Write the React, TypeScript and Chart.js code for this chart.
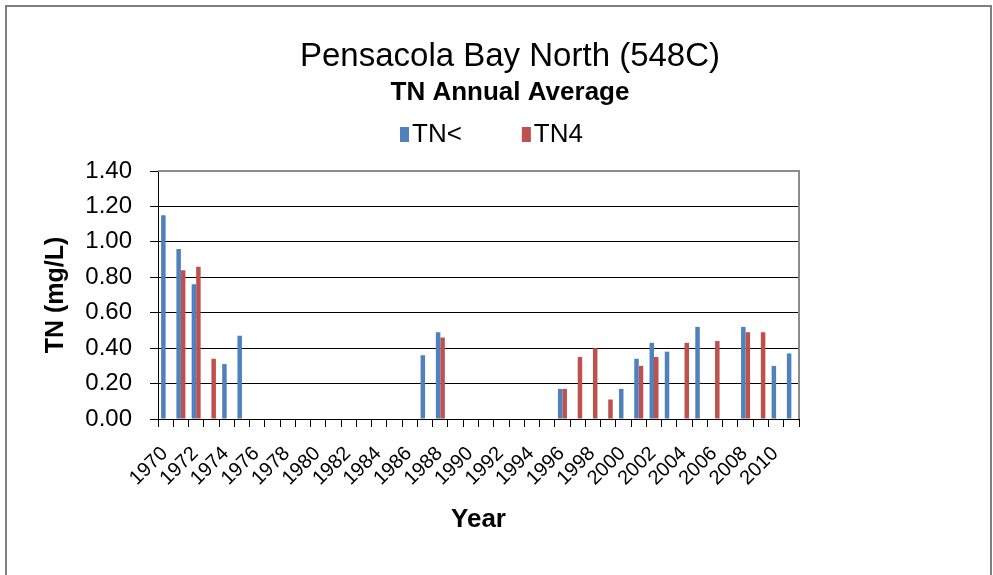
import React, { useEffect, useRef } from 'react';
import { Chart, registerables } from 'chart.js';

Chart.register(...registerables);

const FONT = '"Liberation Sans", Arial, sans-serif';

const years = [
  '1970', '1971', '1972', '1973', '1974', '1975', '1976', '1977', '1978', '1979',
  '1980', '1981', '1982', '1983', '1984', '1985', '1986', '1987', '1988', '1989',
  '1990', '1991', '1992', '1993', '1994', '1995', '1996', '1997', '1998', '1999',
  '2000', '2001', '2002', '2003', '2004', '2005', '2006', '2007', '2008', '2009',
  '2010', '2011',
];

// TN< (blue)
const tnLess = [
  1.15, 0.96, 0.76, null, 0.31, 0.47, null, null, null, null,
  null, null, null, null, null, null, null, 0.36, 0.49, null,
  null, null, null, null, null, null, 0.17, null, null, null,
  0.17, 0.34, 0.43, 0.38, null, 0.52, null, null, 0.52, null,
  0.30, 0.37,
];

// TN4 (red)
const tn4 = [
  null, 0.84, 0.86, 0.34, null, null, null, null, null, null,
  null, null, null, null, null, null, null, null, 0.46, null,
  null, null, null, null, null, null, 0.17, 0.35, 0.40, 0.11,
  null, 0.30, 0.35, null, 0.43, null, 0.44, null, 0.49, 0.49,
  null, null,
];

const yTicks = [0, 0.2, 0.4, 0.6, 0.8, 1.0, 1.2, 1.4];

const BLUE = '#4F81BD';
const RED = '#C0504D';

const legendPlugin = {
  id: 'excelLegend',
  afterDraw(chart: any) {
    const ctx = chart.ctx;
    const area = chart.chartArea;
    ctx.save();
    ctx.font = `26px ${FONT}`;
    ctx.textBaseline = 'middle';
    ctx.textAlign = 'left';
    const boxW = 9;
    const boxH = 15;
    const gap = 3;
    const spacing = 60;
    const items = chart.data.datasets.map((ds: any) => ({
      text: ds.label,
      color: ds.backgroundColor,
      w: ctx.measureText(ds.label).width,
    }));
    const total = items.reduce(
      (s: number, it: any, i: number) => s + boxW + gap + it.w + (i ? spacing : 0),
      0
    );
    let x = chart.width / 2 - 5 - total / 2;
    const cy = area.top - 36.5;
    items.forEach((it: any) => {
      ctx.fillStyle = it.color;
      ctx.fillRect(x, cy - boxH / 2, boxW, boxH);
      ctx.fillStyle = '#000';
      ctx.fillText(it.text, x + boxW + gap, cy);
      x += boxW + gap + it.w + spacing;
    });
    ctx.restore();
  },
};

const framePlugin = {
  id: 'plotFrame',
  afterDraw(chart: any) {
    const { left, right, top, bottom } = chart.chartArea;
    const ctx = chart.ctx;
    ctx.save();
    ctx.strokeStyle = '#8c8c8c';
    ctx.lineWidth = 2;
    ctx.beginPath();
    ctx.moveTo(left, top);
    ctx.lineTo(right, top);
    ctx.lineTo(right, bottom);
    ctx.stroke();
    ctx.restore();
  },
};

export default function App() {
  const ref = useRef<HTMLCanvasElement>(null);

  useEffect(() => {
    if (!ref.current) return;
    const chart = new Chart(ref.current, {
      type: 'bar',
      data: {
        labels: years,
        datasets: [
          {
            label: 'TN<',
            data: tnLess,
            backgroundColor: BLUE,
            categoryPercentage: 0.59,
            barPercentage: 1,
          },
          {
            label: 'TN4',
            data: tn4,
            backgroundColor: RED,
            categoryPercentage: 0.59,
            barPercentage: 1,
          },
        ],
      },
      options: {
        responsive: false,
        animation: false,
        layout: { padding: { left: 27, right: 0, top: 0, bottom: 0 } },
        plugins: {
          legend: { display: false },
          tooltip: { enabled: false },
          title: {
            display: true,
            text: 'Pensacola Bay North (548C)',
            color: '#000',
            font: { family: FONT, size: 33, weight: 'normal' },
            padding: { top: 37.5, bottom: 0 },
          },
          subtitle: {
            display: true,
            text: 'TN Annual Average',
            color: '#000',
            font: { family: FONT, size: 26, weight: 'bold' },
            padding: { top: 0, bottom: 62.7 },
          },
        },
        scales: {
          x: {
            grid: {
              display: true,
              drawOnChartArea: false,
              drawTicks: true,
              tickLength: 8,
              color: '#000',
              offset: true,
            },
            border: { display: true, color: '#000', width: 1 },
            ticks: {
              color: '#000',
              font: { family: FONT, size: 20 },
              autoSkip: false,
              minRotation: 45,
              maxRotation: 45,
              padding: 15,
              labelOffset: -1,
              callback: (_v: any, i: number) => (i % 2 === 0 ? years[i] : ''),
            },
            title: {
              display: true,
              text: 'Year',
              color: '#000',
              font: { family: FONT, size: 26, weight: 'bold' },
              padding: { top: 0, bottom: 39.4 },
            },
            afterFit: (s: any) => {
              s.height = 156;
            },
          },
          y: {
            min: yTicks[0],
            max: yTicks[yTicks.length - 1],
            afterBuildTicks: (s: any) => {
              s.ticks = yTicks.map((v) => ({ value: v }));
            },
            grid: { color: '#000', lineWidth: 1, tickLength: 8, drawTicks: true },
            border: { display: true, color: '#000', width: 1 },
            ticks: {
              color: '#000',
              font: { family: FONT, size: 24 },
              padding: 18,
              callback: (v: any) => Number(v).toFixed(2),
            },
            title: {
              display: true,
              text: 'TN (mg/L)',
              color: '#000',
              font: { family: FONT, size: 25, weight: 'bold' },
              padding: { top: 14, bottom: 0 },
            },
            afterFit: (s: any) => {
              s.width = 131;
            },
          },
          yRight: {
            position: 'right',
            display: true,
            grid: { display: false },
            border: { display: false },
            ticks: { display: false },
            afterFit: (s: any) => {
              s.width = 194;
            },
          },
        },
      },
      plugins: [legendPlugin, framePlugin],
    } as any);
    return () => chart.destroy();
  }, []);

  return (
    <div
      style={{
        position: 'fixed',
        left: 0,
        top: 0,
        width: 993,
        height: 575,
        background: '#fff',
        overflow: 'hidden',
      }}
    >
      <div
        style={{
          position: 'absolute',
          left: 5,
          top: 5,
          width: 987,
          height: 700,
          boxSizing: 'border-box',
          border: '2px solid #7f7f7f',
        }}
      />
      <canvas
        ref={ref}
        width={993}
        height={575}
        style={{ position: 'absolute', left: 0, top: 0, display: 'block' }}
      />
    </div>
  );
}
